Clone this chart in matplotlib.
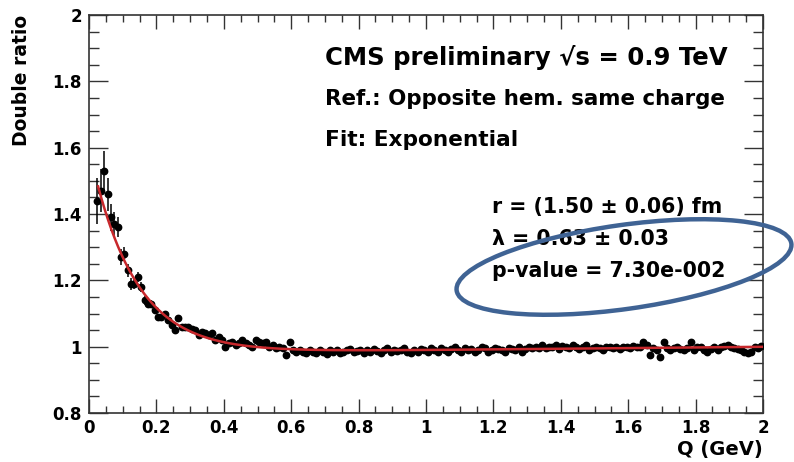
import numpy as np
import matplotlib
matplotlib.use("Agg")
import matplotlib.pyplot as plt
from matplotlib.patches import Ellipse
from matplotlib.ticker import MultipleLocator

plt.rcParams['font.family'] = ['DejaVu Sans']
plt.rcParams['font.weight'] = 'bold'

# Q bins (GeV): 0.01 GeV wide, centres from 0.025 to 1.995
q_bins = np.round(np.arange(0.025, 2.0, 0.01), 3)

double_ratio = [
    1.44, 1.47, 1.53, 1.46, 1.39, 1.37, 1.36, 1.27, 1.28, 1.23,
    1.19, 1.19, 1.21, 1.18, 1.14, 1.13, 1.13, 1.11, 1.09, 1.09,
    1.10, 1.08, 1.065, 1.05, 1.085, 1.06, 1.06, 1.058, 1.052, 1.05,
    1.035, 1.045, 1.04, 1.035, 1.04, 1.02, 1.03, 1.02, 1.0, 1.01,
    1.015, 1.005, 1.01, 1.02, 1.01, 1.005, 1.0, 1.02, 1.015, 1.01,
    1.015, 1.0, 1.005, 0.997, 1.0, 0.995, 0.975, 1.015, 0.99, 0.985,
    0.99, 0.985, 0.98, 0.99, 0.985, 0.98, 0.99, 0.985, 0.978, 0.99,
    0.985, 0.99, 0.98, 0.985, 0.99, 0.993, 0.985, 0.988, 0.99, 0.982,
    0.99, 0.985, 0.992, 0.988, 0.98, 0.99, 0.995, 0.985, 0.99, 0.987,
    0.99, 0.995, 0.985, 0.98, 0.99, 0.985, 0.992, 0.99, 0.983, 0.995,
    0.99, 0.985, 0.995, 0.99, 0.985, 0.992, 0.998, 0.99, 0.985, 0.995,
    0.99, 0.993, 0.985, 0.99, 0.998, 0.995, 0.985, 0.99, 0.995, 0.992,
    0.99, 0.985, 0.995, 0.993, 0.99, 0.998, 0.985, 0.992, 1.0, 0.995,
    1.0, 0.995, 1.005, 0.995, 1.0, 0.998, 1.005, 0.993, 1.003, 1.0,
    0.995, 1.005, 1.0, 0.993, 0.998, 1.005, 0.99, 0.995, 1.0, 0.995,
    0.99, 0.998, 1.0, 0.995, 1.0, 0.993, 0.998, 1.0, 0.995, 1.003,
    0.998, 1.0, 1.015, 1.005, 0.975, 0.995, 0.99, 0.968, 1.015, 0.995,
    0.99, 0.995, 0.998, 0.993, 0.99, 0.995, 1.015, 0.99, 0.998, 1.0,
    0.99, 0.985, 0.993, 0.998, 0.99, 1.0, 1.003, 1.005, 1.0, 0.995,
    0.993, 0.99, 0.985, 0.98, 0.985, 1.0, 0.995, 1.003,
]

ratio_err = [
    0.07, 0.065, 0.06, 0.05, 0.04, 0.035, 0.03, 0.025, 0.022, 0.02,
    0.018, 0.016, 0.015, 0.014, 0.013, 0.012, 0.011, 0.011, 0.010, 0.010,
] + [0.007] * 178

x_tick_labels = ['0', '0.2', '0.4', '0.6', '0.8', '1', '1.2', '1.4', '1.6', '1.8', '2']
y_tick_labels = ['0.8', '1', '1.2', '1.4', '1.6', '1.8', '2']

# Exponential fit: C * (1 + lambda * exp(-r Q / hbar c)) * (1 + delta Q)
fit_r_fm = 1.50
fit_lambda = 0.63
fit_norm = 0.98
fit_delta = 0.01
hbar_c = 0.1973  # GeV fm

fig = plt.figure(figsize=(7.94, 4.62), dpi=100)
ax = fig.add_axes([89 / 794, 1 - 413 / 462, (763 - 89) / 794, (413 - 15) / 462])

ax.errorbar(q_bins, double_ratio, yerr=ratio_err, fmt='o', color='black',
            ms=4.6, elinewidth=1.1, capsize=0, zorder=3)

q_fit = np.linspace(0.027, 2.0, 400)
fit_curve = fit_norm * (1 + fit_lambda * np.exp(-fit_r_fm * q_fit / hbar_c)) * (1 + fit_delta * q_fit)
ax.plot(q_fit, fit_curve, color='#c8282c', lw=1.8, zorder=4)

ax.set_xlim(0, 2)
ax.set_ylim(0.8, 2)
ax.xaxis.set_minor_locator(MultipleLocator(0.05))
ax.yaxis.set_minor_locator(MultipleLocator(0.05))
ax.set_xticks(np.round(np.arange(0, 2.01, 0.2), 1))
ax.set_xticklabels(x_tick_labels)
ax.set_yticks([0.8, 1.0, 1.2, 1.4, 1.6, 1.8, 2.0])
ax.set_yticklabels(y_tick_labels)

ax.tick_params(which='both', direction='in', top=True, right=True, width=1.0, colors='#333333',
               labelcolor='black')
ax.tick_params(axis='x', which='major', length=10, pad=4)
ax.tick_params(axis='x', which='minor', length=5)
ax.tick_params(axis='y', which='major', length=14, pad=5)
ax.tick_params(axis='y', which='minor', length=7)
ax.tick_params(labelsize=12)
for s in ax.spines.values():
    s.set_linewidth(1.2)
    s.set_color('#333333')

fig.text(763 / 794, 1 - 449 / 462, 'Q (GeV)', ha='right', va='center', fontsize=14, fontweight='bold')
fig.text(22 / 794, 1 - 15 / 462, 'Double ratio', rotation=90, ha='center', va='top',
         fontsize=13.5, fontweight='bold')

fig.text(325 / 794, 1 - 57 / 462, 'CMS preliminary \u221as = 0.9 TeV', ha='left', va='center',
         fontsize=17.6, fontweight='bold')
fig.text(325 / 794, 1 - 99 / 462, 'Ref.: Opposite hem. same charge', ha='left', va='center',
         fontsize=15.4, fontweight='bold')
fig.text(325 / 794, 1 - 140 / 462, 'Fit: Exponential', ha='left', va='center',
         fontsize=15.6, fontweight='bold')

fig.text(492 / 794, 1 - 207 / 462, 'r = (%.2f \u00b1 0.06) fm' % fit_r_fm, ha='left', va='center',
         fontsize=14.8, fontweight='bold')
fig.text(492 / 794, 1 - 239 / 462, '\u03bb = %.2f \u00b1 0.03' % fit_lambda, ha='left', va='center',
         fontsize=14.8, fontweight='bold')
fig.text(492 / 794, 1 - 271 / 462, 'p-value = 7.30e-002', ha='left', va='center',
         fontsize=14.8, fontweight='bold')

# Highlight ring around the fit results
ring = Ellipse((624, 462 - 267), width=338, height=84, angle=8, transform=None,
               fill=False, edgecolor='#3f6394', lw=3.2, zorder=10, clip_on=False)
fig.add_artist(ring)

fig.savefig('out.png', dpi=100)
